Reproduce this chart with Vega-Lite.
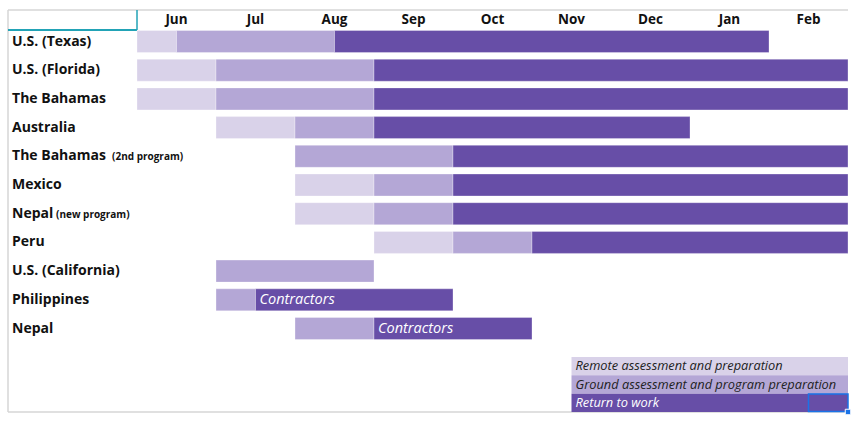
{
  "$schema": "https://vega.github.io/schema/vega-lite/v6.json",
  "width": 840,
  "height": 402,
  "autosize": {"type": "none"},
  "padding": {"left": 8, "top": 10, "right": 12, "bottom": 12},
  "background": "white",
  "config": {"view": {"stroke": null}, "font": "Open Sans", "axis": {"disable": true}},
  "datasets": {
    "bars": [
      {"row": 1, "name": "U.S. (Texas)", "phase": "remote", "start": 0, "end": 0.5},
      {"row": 1, "name": "U.S. (Texas)", "phase": "ground", "start": 0.5, "end": 2.5},
      {"row": 1, "name": "U.S. (Texas)", "phase": "return", "start": 2.5, "end": 8},
      {"row": 2, "name": "U.S. (Florida)", "phase": "remote", "start": 0, "end": 1},
      {"row": 2, "name": "U.S. (Florida)", "phase": "ground", "start": 1, "end": 3},
      {"row": 2, "name": "U.S. (Florida)", "phase": "return", "start": 3, "end": 9},
      {"row": 3, "name": "The Bahamas", "phase": "remote", "start": 0, "end": 1},
      {"row": 3, "name": "The Bahamas", "phase": "ground", "start": 1, "end": 3},
      {"row": 3, "name": "The Bahamas", "phase": "return", "start": 3, "end": 9},
      {"row": 4, "name": "Australia", "phase": "remote", "start": 1, "end": 2},
      {"row": 4, "name": "Australia", "phase": "ground", "start": 2, "end": 3},
      {"row": 4, "name": "Australia", "phase": "return", "start": 3, "end": 7},
      {"row": 5, "name": "The Bahamas (2nd program)", "phase": "ground", "start": 2, "end": 4},
      {"row": 5, "name": "The Bahamas (2nd program)", "phase": "return", "start": 4, "end": 9},
      {"row": 6, "name": "Mexico", "phase": "remote", "start": 2, "end": 3},
      {"row": 6, "name": "Mexico", "phase": "ground", "start": 3, "end": 4},
      {"row": 6, "name": "Mexico", "phase": "return", "start": 4, "end": 9},
      {"row": 7, "name": "Nepal (new program)", "phase": "remote", "start": 2, "end": 3},
      {"row": 7, "name": "Nepal (new program)", "phase": "ground", "start": 3, "end": 4},
      {"row": 7, "name": "Nepal (new program)", "phase": "return", "start": 4, "end": 9},
      {"row": 8, "name": "Peru", "phase": "remote", "start": 3, "end": 4},
      {"row": 8, "name": "Peru", "phase": "ground", "start": 4, "end": 5},
      {"row": 8, "name": "Peru", "phase": "return", "start": 5, "end": 9},
      {"row": 9, "name": "U.S. (California)", "phase": "ground", "start": 1, "end": 3},
      {"row": 10, "name": "Philippines", "phase": "ground", "start": 1, "end": 1.5},
      {"row": 10, "name": "Philippines", "phase": "return", "start": 1.5, "end": 4, "note": "Contractors"},
      {"row": 11, "name": "Nepal", "phase": "ground", "start": 2, "end": 3},
      {"row": 11, "name": "Nepal", "phase": "return", "start": 3, "end": 5, "note": "Contractors"}
    ],
    "labels": [
      {"row": 1, "label": "U.S. (Texas)"},
      {"row": 2, "label": "U.S. (Florida)"},
      {"row": 3, "label": "The Bahamas"},
      {"row": 4, "label": "Australia"},
      {"row": 5, "label": "The Bahamas", "suffix": "(2nd program)"},
      {"row": 6, "label": "Mexico"},
      {"row": 7, "label": "Nepal", "suffix": "(new program)"},
      {"row": 8, "label": "Peru"},
      {"row": 9, "label": "U.S. (California)"},
      {"row": 10, "label": "Philippines"},
      {"row": 11, "label": "Nepal"}
    ],
    "months": [
      {"month": "Jun", "mid": 0.5},
      {"month": "Jul", "mid": 1.5},
      {"month": "Aug", "mid": 2.5},
      {"month": "Sep", "mid": 3.5},
      {"month": "Oct", "mid": 4.5},
      {"month": "Nov", "mid": 5.5},
      {"month": "Dec", "mid": 6.5},
      {"month": "Jan", "mid": 7.5},
      {"month": "Feb", "mid": 8.5}
    ],
    "legend": [
      {"k": 1, "phase": "remote", "label": "Remote assessment and preparation"},
      {"k": 2, "phase": "ground", "label": "Ground assessment and program preparation"},
      {"k": 3, "phase": "return", "label": "Return to work"}
    ]
  },
  "resolve": {"scale": {"y": "independent"}},
  "layer": [
    {
      "layer": [
        {
          "data": {"values": [{}]},
          "mark": {"type": "rule", "color": "#d6d6d6", "strokeWidth": 1.5},
          "encoding": {"y": {"datum": -0.0976, "type": "quantitative", "scale": {"domain": [-0.0976, 13.909], "reverse": true, "nice": false, "zero": false, "padding": 0}}}
        },
        {
          "data": {"values": [{}]},
          "mark": {"type": "rule", "color": "#d6d6d6", "strokeWidth": 1.5},
          "encoding": {"y": {"datum": 13.909, "type": "quantitative"}}
        },
        {
          "data": {"values": [{}]},
          "mark": {"type": "rule", "color": "#d6d6d6", "strokeWidth": 1.5},
          "encoding": {"x": {"datum": -1.633, "type": "quantitative", "scale": {"domain": [-1.633, 9], "nice": false, "zero": false, "padding": 0}}}
        },
        {
          "data": {"values": [{}]},
          "mark": {"type": "rule", "color": "#22a3b6", "strokeWidth": 2},
          "encoding": {
            "x": {"datum": -1.633, "type": "quantitative"},
            "x2": {"datum": 0},
            "y": {"datum": 0.599, "type": "quantitative"}
          }
        },
        {
          "data": {"values": [{}]},
          "mark": {"type": "rule", "color": "#22a3b6", "strokeWidth": 1.5},
          "encoding": {
            "x": {"datum": 0, "type": "quantitative"},
            "y": {"datum": -0.0976, "type": "quantitative"},
            "y2": {"datum": 0.599}
          }
        },
        {
          "data": {"name": "bars"},
          "mark": {"type": "bar", "size": 22, "stroke": "white", "strokeWidth": 0.5, "strokeOpacity": 0.6},
          "encoding": {
            "x": {"field": "start", "type": "quantitative"},
            "x2": {"field": "end"},
            "y": {"field": "row", "type": "quantitative"},
            "color": {
              "field": "phase",
              "type": "nominal",
              "scale": {"domain": ["remote", "ground", "return"], "range": ["#d9d2e9", "#b4a7d6", "#674ea7"]},
              "legend": null
            }
          }
        },
        {
          "data": {"name": "bars"},
          "transform": [{"filter": "datum.note"}],
          "mark": {"type": "text", "align": "left", "baseline": "middle", "dx": 4, "fontSize": 14.5, "fontStyle": "italic", "color": "white"},
          "encoding": {
            "x": {"field": "start", "type": "quantitative"},
            "y": {"field": "row", "type": "quantitative"},
            "text": {"field": "note"}
          }
        },
        {
          "data": {"name": "labels"},
          "mark": {"type": "text", "align": "left", "baseline": "middle", "fontSize": 14, "fontWeight": "bold", "color": "#111"},
          "encoding": {
            "x": {"datum": -1.582, "type": "quantitative"},
            "y": {"field": "row", "type": "quantitative"},
            "text": {"field": "label"}
          }
        },
        {
          "data": {"name": "labels"},
          "transform": [{"filter": "datum.row == 5"}],
          "mark": {"type": "text", "align": "left", "baseline": "middle", "fontSize": 10, "fontWeight": "bold", "color": "#111", "dx": 100, "dy": 1},
          "encoding": {
            "x": {"datum": -1.582, "type": "quantitative"},
            "y": {"field": "row", "type": "quantitative"},
            "text": {"field": "suffix"}
          }
        },
        {
          "data": {"name": "labels"},
          "transform": [{"filter": "datum.row == 7"}],
          "mark": {"type": "text", "align": "left", "baseline": "middle", "fontSize": 10, "fontWeight": "bold", "color": "#111", "dx": 44, "dy": 1},
          "encoding": {
            "x": {"datum": -1.582, "type": "quantitative"},
            "y": {"field": "row", "type": "quantitative"},
            "text": {"field": "suffix"}
          }
        },
        {
          "data": {"name": "months"},
          "mark": {"type": "text", "align": "center", "baseline": "middle", "fontSize": 13.5, "fontWeight": "bold", "color": "#111"},
          "encoding": {
            "x": {"field": "mid", "type": "quantitative"},
            "y": {"datum": 0.251, "type": "quantitative"},
            "text": {"field": "month"}
          }
        }
      ]
    },
    {
      "layer": [
        {
          "data": {"name": "legend"},
          "mark": {"type": "bar", "size": 18.33},
          "encoding": {
            "x": {"datum": 5.5, "type": "quantitative"},
            "x2": {"datum": 9},
            "y": {"field": "k", "type": "quantitative", "scale": {"domain": [-18.43, 3.5], "reverse": true, "nice": false, "zero": false, "padding": 0}},
            "color": {"field": "phase", "type": "nominal", "legend": null}
          }
        },
        {
          "data": {"name": "legend"},
          "mark": {"type": "text", "align": "left", "baseline": "middle", "dx": 4, "fontSize": 12.8, "fontStyle": "italic"},
          "encoding": {
            "x": {"datum": 5.5, "type": "quantitative"},
            "y": {"field": "k", "type": "quantitative"},
            "text": {"field": "label"},
            "color": {"condition": {"test": "datum.phase === 'return'", "value": "white"}, "value": "#222"}
          }
        },
        {
          "data": {"name": "legend"},
          "transform": [{"filter": "datum.k == 3"}],
          "mark": {"type": "bar", "size": 17.5, "filled": false, "stroke": "#1a73e8", "strokeWidth": 1.5},
          "encoding": {
            "x": {"datum": 8.5, "type": "quantitative"},
            "x2": {"datum": 9},
            "y": {"field": "k", "type": "quantitative"}
          }
        },
        {
          "data": {"name": "legend"},
          "transform": [{"filter": "datum.k == 3"}],
          "mark": {"type": "point", "shape": "square", "size": 30, "filled": true, "color": "#1a73e8", "stroke": "white", "strokeWidth": 1, "opacity": 1},
          "encoding": {
            "x": {"datum": 9, "type": "quantitative"},
            "y": {"datum": 3.5, "type": "quantitative"}
          }
        }
      ]
    }
  ]
}
